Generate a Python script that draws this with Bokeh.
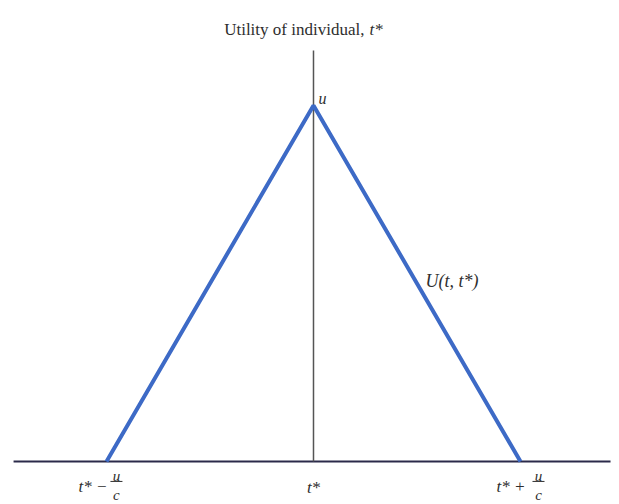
from bokeh.plotting import figure
from bokeh.models import Range1d, Label
from bokeh.embed import file_html
from bokeh.resources import INLINE

# Data (t* = 0, u = 1, c = 1)
t_star = 0.0
u = 1.0
c = 1.0
curve_x = [t_star - u / c, t_star, t_star + u / c]
curve_y = [0.0, u, 0.0]

p = figure(width=619, height=504, output_backend="svg", toolbar_location=None,
           x_range=Range1d(-1.5121, 1.4783), y_range=Range1d(-0.1208, 1.2949),
           min_border=0, outline_line_color=None)
p.axis.visible = False
p.grid.visible = False
p.background_fill_color = "white"

SERIF = "Liberation Serif"
TXT = "#2e2e2e"

# horizontal axis
p.line([-1.449, 1.435], [0, 0], line_color="#2b2a4a", line_width=2)
# vertical axis at t*
p.line([t_star, t_star], [0, 1.1545], line_color="#555555", line_width=1.5)
# utility function
p.line(curve_x, curve_y, line_color="#3d6ac6", line_width=4)

def lab(x, y, text, size="17px", style="normal", align="left", baseline="alphabetic"):
    p.add_layout(Label(x=x, y=y, text=text, text_font=SERIF, text_font_size=size,
                       text_font_style=style, text_align=align, text_baseline=baseline,
                       text_color=TXT))

# title
lab(0.246, 1.2135, "Utility of individual,", size="17px", align="right")
lab(0.2705, 1.2135, "t*", size="17px", style="italic")

# apex label
lab(0.024, 1.0197, "u", size="16px", style="italic")

# curve label
lab(0.541, 0.5084, "U(t, t*)", size="18px", style="italic")

# bottom labels
lab(curve_x[1], -0.073, "t*", size="17px", style="italic", align="center")
lab(curve_x[0] + 0.005, -0.0702, "t* \u2212", size="17px", style="italic", align="right")
lab(curve_x[2] + 0.024, -0.0702, "t* +", size="17px", style="italic", align="right")

for xc in (curve_x[0] + 0.048, curve_x[2] + 0.087):
    lab(xc, -0.042, "u", size="15px", style="italic", align="center")
    p.line([xc - 0.029, xc + 0.029], [-0.056, -0.056], line_color=TXT, line_width=1)
    lab(xc, -0.0955, "c", size="15px", style="italic", align="center")

open("out.html", "w").write(file_html(p, INLINE))
